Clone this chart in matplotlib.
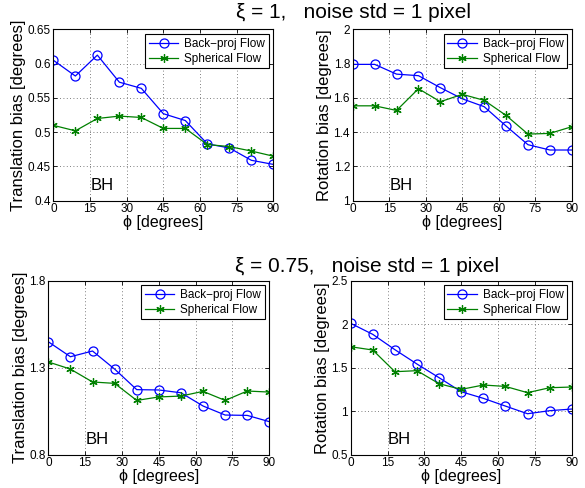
import numpy as np
import matplotlib
matplotlib.use("Agg")
import matplotlib.pyplot as plt

plt.rcParams['font.family'] = ['Liberation Sans', 'DejaVu Sans']

phi = [0, 9, 18, 27, 36, 45, 54, 63, 72, 81, 90]

# xi = 1
trans_bp_1 = [0.605, 0.582, 0.6125, 0.573, 0.564, 0.527, 0.517, 0.483, 0.477, 0.459, 0.453]
trans_sph_1 = [0.510, 0.502, 0.520, 0.5235, 0.5215, 0.5055, 0.5055, 0.482, 0.479, 0.4725, 0.465]
rot_bp_1 = [1.796, 1.796, 1.739, 1.730, 1.660, 1.595, 1.549, 1.436, 1.327, 1.296, 1.296]
rot_sph_1 = [1.554, 1.554, 1.527, 1.654, 1.578, 1.621, 1.586, 1.498, 1.389, 1.393, 1.432]

# xi = 0.75
trans_bp_075 = [1.449, 1.363, 1.396, 1.292, 1.174, 1.172, 1.156, 1.080, 1.028, 1.026, 0.990]
trans_sph_075 = [1.333, 1.292, 1.218, 1.210, 1.112, 1.132, 1.137, 1.164, 1.112, 1.166, 1.160]
rot_bp_075 = [2.010, 1.883, 1.707, 1.542, 1.385, 1.224, 1.148, 1.059, 0.971, 1.006, 1.025]
rot_sph_075 = [1.741, 1.703, 1.454, 1.466, 1.316, 1.251, 1.301, 1.285, 1.213, 1.270, 1.278]

xticks = [0, 15, 30, 45, 60, 75, 90]

panels = [
    # rect, bp, sph, ylabel, ylim, yticks, yticklabels
    ([0.0912, 0.5887, 0.376, 0.351], trans_bp_1, trans_sph_1, 'Translation bias [degrees]',
     (0.4, 0.65), [0.4, 0.45, 0.5, 0.55, 0.6, 0.65], ['0.4', '0.45', '0.5', '0.55', '0.6', '0.65']),
    ([0.603, 0.5887, 0.3744, 0.351], rot_bp_1, rot_sph_1, 'Rotation bias [degrees]',
     (1, 2), [1, 1.2, 1.4, 1.6, 1.8, 2], ['1', '1.2', '1.4', '1.6', '1.8', '2']),
    ([0.0826, 0.0682, 0.3778, 0.3566], trans_bp_075, trans_sph_075, 'Translation bias [degrees]',
     (0.8, 1.8), [0.8, 1.3, 1.8], ['0.8', '1.3', '1.8']),
    ([0.5995, 0.0682, 0.3778, 0.3566], rot_bp_075, rot_sph_075, 'Rotation bias [degrees]',
     (0.5, 2.5), [0.5, 1, 1.5, 2, 2.5], ['0.5', '1', '1.5', '2', '2.5']),
]

asterisk = (6, 2, 0)

fig = plt.figure(figsize=(5.85, 4.88), dpi=100)

for rect, bp, sph, ylabel, ylim, yticks, ylabs in panels:
    ax = fig.add_axes(rect)
    ax.plot(phi, bp, color='blue', lw=0.9, marker='o', ms=6.5, mfc='none', mec='blue',
            mew=0.9, label='Back\u2212proj Flow')
    ax.plot(phi, sph, color='#008000', lw=0.9, marker=asterisk, ms=6, mec='#008000',
            mew=0.9, label='Spherical Flow')
    ax.set_xlim(0, 90)
    ax.set_ylim(*ylim)
    ax.set_xticks(xticks)
    ax.set_yticks(yticks)
    ax.set_yticklabels(ylabs)
    ax.tick_params(direction='in', labelsize=8.5, length=3, width=0.6, pad=2,
                   top=True, right=True)
    ax.grid(True, linestyle=(0, (1, 3)), color='#555555', lw=0.6)
    for s in ax.spines.values():
        s.set_linewidth(0.8)
    ax.set_xlabel('\u03d5 [degrees]', fontsize=11.5, labelpad=0)
    ax.set_ylabel(ylabel, fontsize=12, labelpad=1)
    ax.text(0.22, 0.09, 'BH', transform=ax.transAxes, fontsize=12, ha='center', va='center')
    leg = ax.legend(loc='upper right', fontsize=8.5, frameon=True, fancybox=False,
                    edgecolor='black', framealpha=1, borderpad=0.3, labelspacing=0.25,
                    handlelength=2.5, handletextpad=0.5, borderaxespad=0.4)
    leg.get_frame().set_linewidth(0.8)

fig.text(0.604, 0.975, '\u03be = 1,   noise std = 1 pixel', fontsize=15, ha='center', va='center')
fig.text(0.627, 0.453, '\u03be = 0.75,   noise std = 1 pixel', fontsize=15, ha='center', va='center')

fig.savefig('out.png', dpi=100)
